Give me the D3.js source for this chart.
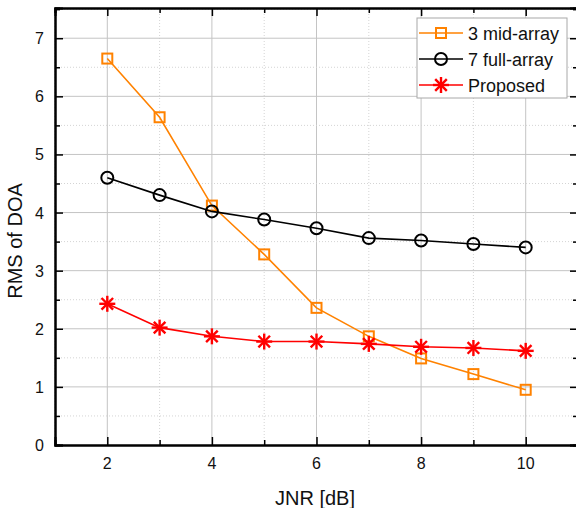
<!DOCTYPE html>
<html>
<head>
<meta charset="utf-8">
<script src="https://cdn.jsdelivr.net/npm/d3@7"></script>
<style>
  body { margin: 0; background: #fff; }
  svg { display: block; font-family: "Liberation Sans", Arial, sans-serif; }
</style>
</head>
<body>
<svg id="chart" width="576" height="508"></svg>
<script>
// values
var jnr = [2, 3, 4, 5, 6, 7, 8, 9, 10];
var midArray = [6.65, 5.64, 4.12, 3.28, 2.36, 1.87, 1.49, 1.22, 0.95];
var fullArray = [4.60, 4.30, 4.02, 3.88, 3.73, 3.56, 3.52, 3.46, 3.40];
var proposed = [2.43, 2.02, 1.87, 1.78, 1.78, 1.74, 1.69, 1.67, 1.62];
var xTicks = [2, 4, 6, 8, 10];
var xMinor = [1, 3, 5, 7, 9, 11];
var yTicks = [0, 1, 2, 3, 4, 5, 6, 7];
var yMinor = [0.5, 1.5, 2.5, 3.5, 4.5, 5.5, 6.5, 7.5];
var seriesNames = ["3 mid-array", "7 full-array", "Proposed"];

var svg = d3.select("#chart");
var m = { left: 55, top: 8, right: 578, bottom: 445 };

var x = d3.scaleLinear().domain([1, 11]).range([m.left, m.right]);
var y = d3.scaleLinear().domain([0, 7.52]).range([m.bottom, m.top]);

var series = [
  { name: seriesNames[0], values: midArray, color: "#ff8200", marker: "square" },
  { name: seriesNames[1], values: fullArray, color: "#000000", marker: "circle" },
  { name: seriesNames[2], values: proposed, color: "#ff0000", marker: "star" }
];

// grid
var grid = svg.append("g");
grid.selectAll("line.vmaj").data(xTicks).enter().append("line")
  .attr("x1", function(d) { return x(d); }).attr("x2", function(d) { return x(d); })
  .attr("y1", m.top).attr("y2", m.bottom)
  .attr("stroke", "#c4c4c4").attr("stroke-width", 1);
grid.selectAll("line.vmin").data(xMinor).enter().append("line")
  .attr("x1", function(d) { return x(d); }).attr("x2", function(d) { return x(d); })
  .attr("y1", m.top).attr("y2", m.bottom)
  .attr("stroke", "#d4d4d4").attr("stroke-width", 1).attr("stroke-dasharray", "1,2");
grid.selectAll("line.hmaj").data(yTicks.slice(1)).enter().append("line")
  .attr("x1", m.left).attr("x2", m.right)
  .attr("y1", function(d) { return y(d); }).attr("y2", function(d) { return y(d); })
  .attr("stroke", "#c4c4c4").attr("stroke-width", 1);
grid.selectAll("line.hmin").data(yMinor).enter().append("line")
  .attr("x1", m.left).attr("x2", m.right)
  .attr("y1", function(d) { return y(d); }).attr("y2", function(d) { return y(d); })
  .attr("stroke", "#d4d4d4").attr("stroke-width", 1).attr("stroke-dasharray", "1,2");

// axes, ticks pointing inward
var axBottom = svg.append("g").attr("transform", "translate(0," + m.bottom + ")")
  .call(d3.axisTop(x).tickValues(xTicks).tickSize(8).tickFormat(""));
axBottom.append("g").call(d3.axisTop(x).tickValues(xMinor).tickSize(5).tickFormat(""));
var axTop = svg.append("g").attr("transform", "translate(0," + m.top + ")")
  .call(d3.axisBottom(x).tickValues(xTicks).tickSize(8).tickFormat(""));
axTop.append("g").call(d3.axisBottom(x).tickValues(xMinor).tickSize(5).tickFormat(""));
var axLeft = svg.append("g").attr("transform", "translate(" + m.left + ",0)")
  .call(d3.axisRight(y).tickValues(yTicks).tickSize(8).tickFormat(""));
axLeft.append("g").call(d3.axisRight(y).tickValues(yMinor).tickSize(5).tickFormat(""));
var axRight = svg.append("g").attr("transform", "translate(" + m.right + ",0)")
  .call(d3.axisLeft(y).tickValues(yTicks).tickSize(8).tickFormat(""));
axRight.append("g").call(d3.axisLeft(y).tickValues(yMinor).tickSize(5).tickFormat(""));

svg.selectAll(".domain").attr("stroke", "#000").attr("stroke-width", 2);
svg.selectAll(".tick line").attr("stroke", "#000").attr("stroke-width", 1.5);

// tick labels
svg.append("g").selectAll("text").data(xTicks).enter().append("text")
  .attr("x", function(d) { return x(d); }).attr("y", 469)
  .attr("text-anchor", "middle").attr("font-size", 16).attr("fill", "#111")
  .text(function(d) { return d; });
svg.append("g").selectAll("text").data(yTicks).enter().append("text")
  .attr("x", 44).attr("y", function(d) { return y(d) + 6; })
  .attr("text-anchor", "end").attr("font-size", 16).attr("fill", "#111")
  .text(function(d) { return d; });

// axis titles
svg.append("text").attr("x", 315).attr("y", 505)
  .attr("text-anchor", "middle").attr("font-size", 20).attr("fill", "#111")
  .text("JNR [dB]");
svg.append("text").attr("transform", "translate(22,241) rotate(-90)")
  .attr("text-anchor", "middle").attr("font-size", 20).attr("fill", "#111")
  .text("RMS of DOA");

// markers
function drawMarker(g, type, color) {
  if (type === "square") {
    g.append("rect").attr("x", -5).attr("y", -5).attr("width", 10).attr("height", 10)
      .attr("fill", "none").attr("stroke", color).attr("stroke-width", 2);
  } else if (type === "circle") {
    g.append("circle").attr("r", 6)
      .attr("fill", "none").attr("stroke", color).attr("stroke-width", 2);
  } else {
    var r = 8, d = 5.8;
    [[0, -r, 0, r], [-r, 0, r, 0], [-d, -d, d, d], [-d, d, d, -d]]
      .forEach(function(s) {
        g.append("line").attr("x1", s[0]).attr("y1", s[1]).attr("x2", s[2]).attr("y2", s[3])
          .attr("stroke", color).attr("stroke-width", 2.4);
      });
  }
}

var line = d3.line()
  .x(function(d) { return x(d[0]); })
  .y(function(d) { return y(d[1]); });

series.forEach(function(s) {
  var pts = jnr.map(function(v, i) { return [v, s.values[i]]; });
  svg.append("path").datum(pts).attr("d", line)
    .attr("fill", "none").attr("stroke", s.color).attr("stroke-width", 1.6);
  svg.append("g").selectAll("g").data(pts).enter().append("g")
    .attr("transform", function(d) { return "translate(" + x(d[0]) + "," + y(d[1]) + ")"; })
    .each(function() { drawMarker(d3.select(this), s.marker, s.color); });
});

// legend
var legend = svg.append("g").attr("transform", "translate(417,18)");
legend.append("rect").attr("width", 150).attr("height", 80)
  .attr("fill", "#fff").attr("stroke", "#a8a8a8").attr("stroke-width", 1);
series.forEach(function(s, i) {
  var ly = 15 + i * 26;
  var row = legend.append("g").attr("transform", "translate(0," + ly + ")");
  row.append("line").attr("x1", 2).attr("x2", 46).attr("y1", 0).attr("y2", 0)
    .attr("stroke", s.color).attr("stroke-width", 1.6);
  drawMarker(row.append("g").attr("transform", "translate(24,0)"), s.marker, s.color);
  row.append("text").attr("x", 51).attr("y", 6.5).attr("font-size", 18).attr("fill", "#111")
    .text(s.name);
});
</script>
</body>
</html>
